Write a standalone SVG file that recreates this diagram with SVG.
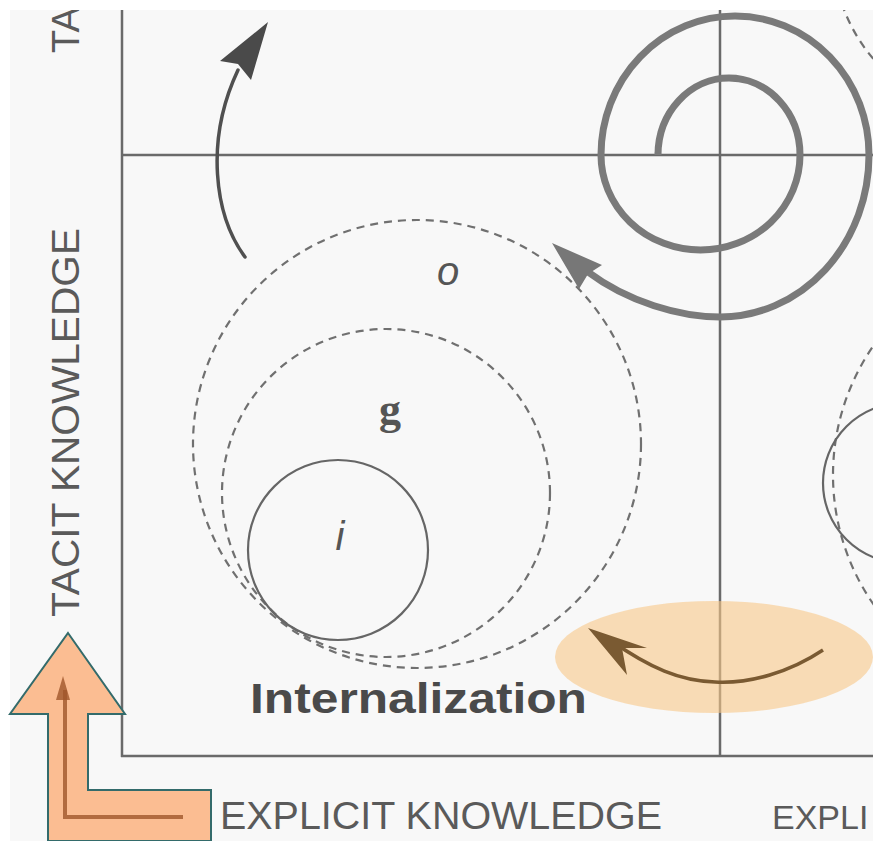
<svg xmlns="http://www.w3.org/2000/svg" width="873" height="841" viewBox="0 0 873 841">
<style>
.axis{stroke:#6a6a6a;stroke-width:2.5;fill:none}
.dash{stroke:#707070;stroke-width:2.2;fill:none;stroke-dasharray:8 6}
.solid{stroke:#666;stroke-width:2.2;fill:none}
.lbl{font-family:"Liberation Sans",Arial,sans-serif;fill:#555}
.cap{font-family:"Liberation Sans",Arial,sans-serif;fill:#5a5a5a;font-size:38px}
</style>
<defs>
<clipPath id="page"><rect x="10" y="10" width="863" height="831"/></clipPath>
</defs>
<rect width="873" height="841" fill="#ffffff"/>
<rect x="10" y="10" width="863" height="831" fill="#f8f8f8"/>
<g clip-path="url(#page)">
<g id="axes">
<line class="axis" x1="122" y1="10" x2="122" y2="757"/>
<line class="axis" x1="122" y1="155" x2="873" y2="155"/>
<line class="axis" x1="720" y1="10" x2="720" y2="757"/>
<line class="axis" x1="121" y1="756" x2="873" y2="756"/>
</g>
<g id="circle-o"><circle class="dash" cx="417" cy="444" r="224"/><text class="lbl" x="448" y="285" font-size="40" font-style="italic" text-anchor="middle">o</text></g>
<g id="circle-g"><circle class="dash" cx="386" cy="493" r="164"/><text x="390" y="424" font-family="Liberation Serif,serif" font-weight="bold" font-size="44" fill="#555" text-anchor="middle">g</text></g>
<g id="circle-i"><circle class="solid" cx="338" cy="550" r="90"/><text class="lbl" x="340" y="550" font-size="40" font-style="italic" text-anchor="middle">i</text></g>
<g id="right-circles">
<circle class="dash" cx="1060" cy="475" r="227"/>
<circle class="solid" cx="903" cy="483" r="80"/>
<circle class="dash" cx="1000" cy="-50" r="167"/>
</g>
<g id="connectors">
<path d="M245,257 C214,215 205,140 238,70" fill="none" stroke="#505050" stroke-width="3.5" stroke-linecap="round"/>
<polygon points="268,22 220,61 238,64 251,80" fill="#4a4a4a"/>
<path d="M658,152 L658,155 A71,77 0 0 1 800,155 A99.5,95 0 0 1 601,155 A134,139 0 0 1 869,155 A149,162 0 0 1 720,317 C680,317 628,302 588,272" fill="none" stroke="#7a7a7a" stroke-width="7"/>
<polygon points="552,243 602,265 588,274 579,289" fill="#777"/>
</g>
<g id="orange-ellipse">
<ellipse cx="714" cy="657" rx="159" ry="56" fill="#f9c888" fill-opacity="0.6"/>
<path d="M823,650 C790,672 750,684 715,682 C680,681 650,668 610,640" fill="none" stroke="#7a5a32" stroke-width="3.5"/>
<polygon points="588,628 647,648 622,648 627,675" fill="#7a5a32"/>
</g>
<g id="labels">
<text x="250" y="713" font-family="Liberation Sans,Arial,sans-serif" font-weight="bold" font-size="42" fill="#4a4a4a" textLength="337" lengthAdjust="spacingAndGlyphs">Internalization</text>
<text class="cap" x="220" y="829" textLength="442" lengthAdjust="spacingAndGlyphs">EXPLICIT KNOWLEDGE</text>
<text class="cap" transform="translate(79,617) rotate(-90)" textLength="389" lengthAdjust="spacingAndGlyphs">TACIT KNOWLEDGE</text>
<text class="cap" transform="translate(79,53) rotate(-90)">TA</text>
</g>
</g>
<text x="772" y="829" font-family="Liberation Sans,Arial,sans-serif" font-size="34" fill="#5a5a5a">EXPLI</text>
<g id="orange-arrow">
<polygon points="68,633 125,714 88,714 88,790 211,790 211,841 48,841 48,714 10,714" fill="#fbbd92" stroke="#336b6b" stroke-width="2"/>
<path d="M65,690 L65,817 L183,817" fill="none" stroke="#a0562a" stroke-width="4" stroke-opacity="0.8"/>
<polygon points="63,676 56,700 70,700" fill="#a0562a" fill-opacity="0.8"/>
</g>
</svg>
